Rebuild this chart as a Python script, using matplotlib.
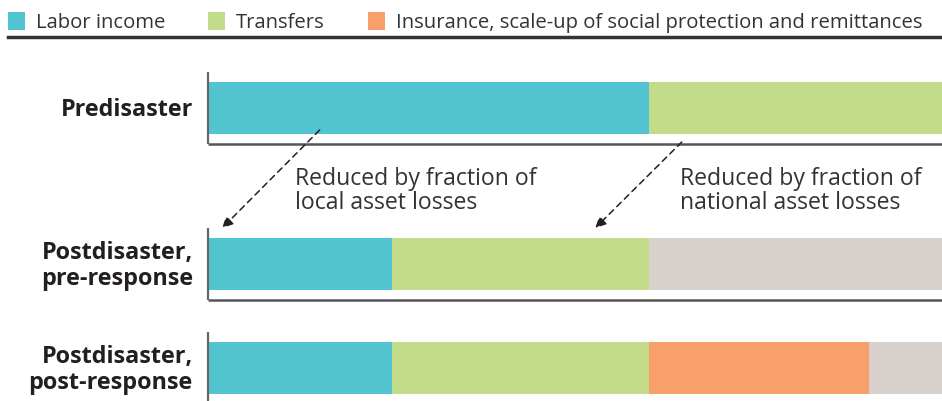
import matplotlib
matplotlib.use("Agg")
import matplotlib.pyplot as plt
from matplotlib.patches import Patch

plt.rcParams['font.family'] = ['Open Sans', 'DejaVu Sans']

# data: shares of household income (percent of predisaster total)
scenarios = ["Predisaster", "Postdisaster,\npre-response", "Postdisaster,\npost-response"]
labor = [60, 25, 25]
transfers = [40, 35, 35]
insurance = [0, 0, 30]
lost = [0, 40, 10]

series_names = ["Labor income", "Transfers",
                "Insurance, scale-up of social protection and remittances"]
colors = ["#52C4CF", "#C3DC8A", "#F99F6B"]
lost_color = "#D9D1CB"
text_dark = "#231F20"

# layout (pixels from top of the figure)
W, H = 942, 401
ypos = [108, 264, 368]
bar_h = 52

fig = plt.figure(figsize=(W / 100, H / 100), dpi=100)
ax = fig.add_axes([209 / W, 0, 1 - 209 / W, 1])
ax.set_xlim(0, 100)
ax.set_ylim(H, 0)
ax.axis("off")

left = [0, 0, 0]
for vals, col in [(labor, colors[0]), (transfers, colors[1]),
                  (insurance, colors[2]), (lost, lost_color)]:
    ax.barh(ypos, vals, left=left, height=bar_h, color=col, linewidth=0)
    left = [l + v for l, v in zip(left, vals)]

# bracket axes under each bar
for y in ypos:
    top = y - bar_h / 2 - 10
    bot = y + bar_h / 2 + 10
    ax.plot([-0.15, -0.15], [top, bot], color="#666666", lw=1.6,
            clip_on=False, solid_capstyle="butt")
    ax.plot([-0.15, 100], [bot, bot], color="#555555", lw=1.8,
            clip_on=False, solid_capstyle="butt")

# row labels
for y, lab in zip(ypos, scenarios):
    ax.text(-2.2, y + 2, lab, ha="right", va="center", fontsize=16.8,
            fontweight="bold", color=text_dark, linespacing=1.12,
            clip_on=False)

# dashed arrows
arrow = dict(arrowstyle="-|>", color=text_dark, lw=1.1, linestyle=(0, (4, 3)),
             mutation_scale=16, shrinkA=0, shrinkB=0)
ax.annotate("", xy=(1.8, 228), xytext=(15.1, 130), arrowprops=arrow)
ax.annotate("", xy=(52.7, 228), xytext=(64.5, 142), arrowprops=arrow)

ax.text(11.7, 167, "Reduced by fraction of\nlocal asset losses", ha="left",
        va="top", fontsize=16.6, color="#333333", linespacing=1.02)
ax.text(64.3, 167, "Reduced by fraction of\nnational asset losses", ha="left",
        va="top", fontsize=16.6, color="#333333", linespacing=1.02)

# legend
handles = [Patch(facecolor=c, edgecolor="none") for c in colors]
fig.legend(handles, series_names, loc="upper left",
           bbox_to_anchor=(-0.007, 1.005),
           ncol=3, frameon=False, fontsize=14.6, handlelength=0.85,
           handleheight=1.0, handletextpad=0.55, columnspacing=2.1,
           borderaxespad=0.3, labelcolor="#333333")
fig.add_artist(plt.Line2D([8 / W, 1], [1 - 37 / H, 1 - 37 / H],
                          color="#333333", lw=2.5, transform=fig.transFigure))

fig.savefig("out.png", dpi=100)
